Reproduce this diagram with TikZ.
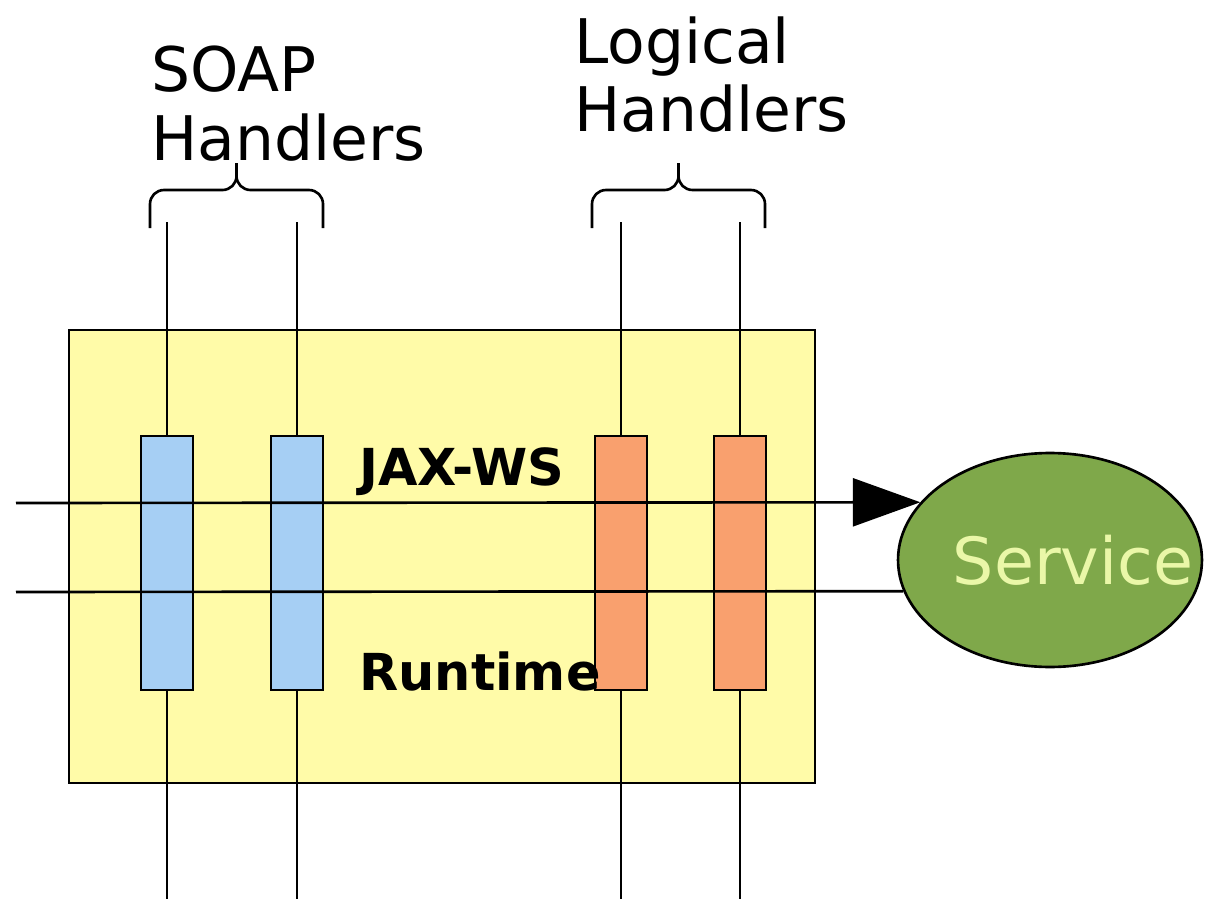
\documentclass[tikz,border=0pt]{standalone}
\usepackage{fontspec}
\setmainfont{DejaVu Sans}
\usetikzlibrary{arrows.meta,shapes.geometric}

\definecolor{rtyellow}{RGB}{255,251,168}
\definecolor{soapblue}{RGB}{166,207,244}
\definecolor{logicorange}{RGB}{249,160,110}
\definecolor{svcgreen}{RGB}{127,168,74}
\definecolor{svctext}{RGB}{234,247,168}

\begin{document}
\begin{tikzpicture}[
        x=0.02cm, y=-0.02cm,
        line width=1.5pt,
        handler/.style={
            draw,
            rectangle,
            minimum width=1.04cm,
            minimum height=5.08cm,
            inner sep=0pt
        },
        heading/.style={
            anchor=north west,
            align=left,
            inner sep=0pt,
            font=\fontsize{35}{39}\selectfont
        },
        rtlabel/.style={
            anchor=base west,
            inner sep=0pt,
            font=\bfseries\fontsize{29}{34}\selectfont
        },
        grouping/.style={
            rounded corners=0.28cm
        }
    ]
        \useasboundingbox (0,0) rectangle (1205,899);

        % Runtime box
        \node[draw, fill=rtyellow, minimum width=14.92cm, minimum height=9.06cm, inner sep=0pt] (runtime) at (442,556.5) {};

        % Handler boxes
        \node[handler, fill=soapblue] (soapA) at (167,563) {};
        \node[handler, fill=soapblue] (soapB) at (297,563) {};
        \node[handler, fill=logicorange] (logicA) at (621,563) {};
        \node[handler, fill=logicorange] (logicB) at (740,563) {};

        % Ends of the handler lines
        \coordinate (soapAtop) at (167,222);
        \coordinate (soapBtop) at (297,222);
        \coordinate (logicAtop) at (621,222);
        \coordinate (logicBtop) at (740,222);
        \coordinate (soapAbot) at (167,899);
        \coordinate (soapBbot) at (297,899);
        \coordinate (logicAbot) at (621,899);
        \coordinate (logicBbot) at (740,899);

        % Lines through the handlers
        \draw (soapAtop) -- (soapA.north);
        \draw (soapBtop) -- (soapB.north);
        \draw (logicAtop) -- (logicA.north);
        \draw (logicBtop) -- (logicB.north);
        \draw (soapA.south) -- (soapAbot);
        \draw (soapB.south) -- (soapBbot);
        \draw (logicA.south) -- (logicAbot);
        \draw (logicB.south) -- (logicBbot);

        % Service
        \node[ellipse, draw, fill=svcgreen, minimum width=6.08cm, minimum height=4.28cm, inner sep=0pt] (service) at (1050,560) {};
        \node[font=\fontsize{37}{40}\selectfont, text=svctext, inner sep=0pt] (servicetext) at ([xshift=0.46cm]service.center) {Service};

        % Message lines
        \coordinate (inA) at (16,503);
        \coordinate (inB) at (16,592);
        \draw[-{Triangle[length=1.35cm,width=0.96cm]}] (inA) -- (service.156.2);
        \draw (inB) -- (service.192.4);

        % Runtime labels
        \node[rtlabel] (jaxws) at (358,485) {JAX-WS};
        \node[rtlabel] (rtname) at (358,690) {Runtime};

        % Braces
        \coordinate (soapL) at (150,228);
        \coordinate (soapR) at (323,228);
        \coordinate (soapMid) at (236.5,190);
        \coordinate (soapTip) at (236.5,163);
        \coordinate (logicL) at (592,228);
        \coordinate (logicR) at (765,228);
        \coordinate (logicMid) at (678.5,190);
        \coordinate (logicTip) at (678.5,163);
        \draw[grouping] (soapL) |- (soapMid) -- (soapTip);
        \draw[grouping] (soapR) |- (soapMid) -- (soapTip);
        \draw[grouping] (logicL) |- (logicMid) -- (logicTip);
        \draw[grouping] (logicR) |- (logicMid) -- (logicTip);

        % Headings
        \node[heading] (soaplabel) at (150,45) {SOAP\\Handlers};
        \node[heading] (logiclabel) at (573,15) {Logical\\Handlers};

    \end{tikzpicture}
\end{document}
